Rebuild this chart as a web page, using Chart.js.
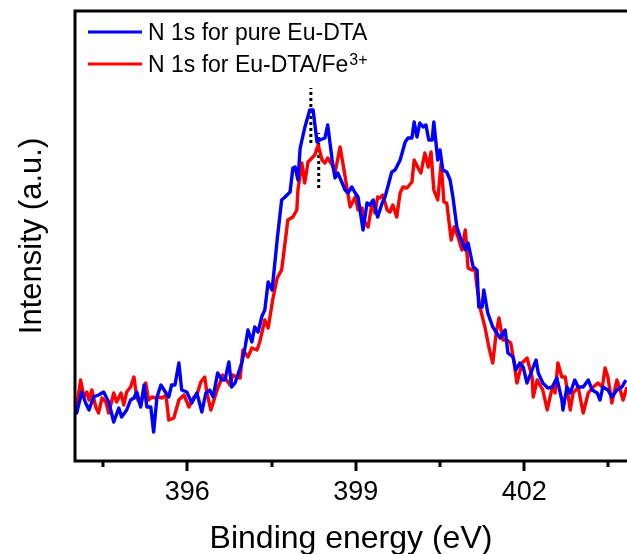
<!DOCTYPE html>
<html><head><meta charset="utf-8">
<script src="https://cdn.jsdelivr.net/npm/chart.js@4"></script>
<style>html,body{margin:0;padding:0;background:#fff;overflow:hidden}</style>
</head><body>
<canvas id="c" width="627" height="554"></canvas>
<script>
// Binding energy (eV) and intensity (a.u.)
const blueE=[394.01,394.03,394.12,394.19,394.25,394.33,394.42,394.51,394.60,394.69,
394.78,394.83,394.92,394.99,395.05,395.10,395.17,395.23,395.28,395.35,
395.40,395.46,395.53,395.62,395.67,395.72,395.78,395.85,395.90,395.99,
396.08,396.17,396.26,396.33,396.40,396.46,396.54,396.62,396.67,396.74,
396.79,396.85,396.97,397.03,397.08,397.15,397.20,397.26,397.33,397.38,
397.44,397.51,397.60,397.68,397.74,397.83,397.88,397.92,397.97,398.01,
398.09,398.18,398.24,398.31,398.36,398.45,398.50,398.58,398.63,398.68,
398.75,398.81,398.86,398.93,398.99,399.04,399.13,399.20,399.25,399.31,
399.39,399.47,399.52,399.57,399.64,399.70,399.79,399.88,399.93,400.00,
400.04,400.09,400.14,400.20,400.25,400.30,400.36,400.39,400.46,400.50,
400.55,400.62,400.68,400.73,400.80,400.86,400.95,401.00,401.09,401.16,
401.19,401.25,401.28,401.35,401.44,401.51,401.57,401.66,401.71,401.80,
401.85,401.92,401.98,402.05,402.14,402.21,402.25,402.33,402.42,402.50,
402.58,402.67,402.69,402.76,402.82,402.90,402.96,403.05,403.14,403.21,
403.30,403.35,403.40,403.49,403.56,403.65,403.74,403.81];
const blueI=[54,48,69,58,51,64,66,69,59,39,
53,44,51,61,63,69,54,76,54,54,
29,64,76,68,64,76,76,98,71,69,
58,68,49,68,71,64,88,81,81,99,
74,78,98,114,131,119,134,129,145,151,
179,171,221,261,264,269,293,294,281,313,
333,351,351,319,321,323,336,301,283,288,
279,271,268,274,268,264,231,258,256,261,
244,258,264,274,289,291,301,319,323,323,
339,324,338,334,336,321,321,339,301,311,
291,289,281,264,234,224,211,218,194,191,
154,154,171,148,134,128,123,131,108,104,
91,98,94,78,91,101,88,78,73,74,
83,61,51,74,68,81,74,74,81,71,
68,61,74,71,64,71,74,81];
const redE=[394.01,394.03,394.10,394.16,394.21,394.25,394.30,394.37,394.42,394.48,
394.55,394.60,394.69,394.74,394.82,394.87,394.92,394.99,395.05,395.10,
395.17,395.26,395.31,395.37,395.44,395.49,395.55,395.62,395.67,395.76,
395.85,395.94,396.03,396.12,396.17,396.24,396.31,396.35,396.42,396.53,
396.58,396.63,396.70,396.76,396.81,396.88,396.94,396.99,397.08,397.15,
397.24,397.29,397.38,397.44,397.52,397.60,397.68,397.74,397.79,397.88,
397.95,397.97,398.04,398.09,398.15,398.22,398.27,398.33,398.40,398.45,
398.50,398.58,398.63,398.72,398.77,398.84,398.90,398.99,399.04,399.11,
399.16,399.22,399.29,399.34,399.39,399.43,399.48,399.56,399.61,399.66,
399.73,399.79,399.84,399.91,400.00,400.04,400.11,400.16,400.23,400.29,
400.34,400.39,400.46,400.52,400.57,400.62,400.70,400.75,400.82,400.89,
400.95,401.00,401.07,401.12,401.16,401.21,401.30,401.37,401.44,401.50,
401.55,401.62,401.69,401.76,401.82,401.87,401.96,402.05,402.14,402.16,
402.23,402.33,402.41,402.50,402.55,402.60,402.67,402.73,402.82,402.87,
402.96,403.05,403.14,403.23,403.31,403.39,403.44,403.49,403.56,403.65,
403.71,403.76,403.83];
const redI=[58,54,81,64,69,61,71,54,48,63,
59,48,68,59,68,56,69,74,84,63,
56,78,61,64,63,64,63,66,41,43,
61,66,54,64,66,79,84,68,51,71,
78,86,81,76,86,84,83,111,104,113,
111,119,141,133,161,183,191,218,241,244,
251,271,298,278,299,303,306,316,301,298,
303,296,288,314,298,274,254,264,251,253,
239,234,258,248,264,263,266,251,249,256,
244,268,274,273,279,301,293,288,308,294,
309,271,261,298,259,258,221,234,224,211,
231,193,191,193,174,154,134,114,98,128,
143,121,121,118,98,78,98,103,84,64,
81,71,51,74,68,98,84,84,51,68,
74,48,68,74,78,74,93,84,58,81,
71,61,74];
// dotted peak markers
const markerE=[398.20,398.34];
const markerLow=[318,273];
const markerHigh=[373,328];
// axis ticks
const majorTicks=[396,399,402];
const minorTicks=[394.5,397.5,400.5,403.5];
const seriesNames=['N 1s for pure Eu-DTA','N 1s for Eu-DTA/Fe'];
const seriesSup=['','3+'];
const seriesColors=['#0000ff','#ff0000'];

const FONT='"Liberation Sans", Arial, sans-serif';
const toPts=(xs,ys)=>xs.map((v,i)=>({x:v,y:ys[i]}));

const datasets=[
  {label:seriesNames[0],data:toPts(blueE,blueI),borderColor:seriesColors[0]},
  {label:seriesNames[1],data:toPts(redE,redI),borderColor:seriesColors[1]}
].map(d=>Object.assign(d,{showLine:true,pointRadius:0,borderWidth:3.4,tension:0,fill:false,borderJoinStyle:'round'}));
markerE.forEach((e,i)=>{
  datasets.push({label:'marker'+i,data:[{x:e,y:markerLow[i]},{x:e,y:markerHigh[i]}],
    showLine:true,pointRadius:0,borderColor:'#000',borderWidth:3,borderDash:[3,3],borderCapStyle:'butt'});
});

const frame={
  id:'frame',
  afterDraw(chart){
    const {ctx,chartArea:a,scales:{x}}=chart;
    ctx.save();
    ctx.strokeStyle='#000';ctx.lineWidth=3;ctx.lineJoin='miter';ctx.lineCap='butt';
    ctx.beginPath();
    ctx.moveTo(chart.width+5,a.top);ctx.lineTo(a.left,a.top);ctx.lineTo(a.left,a.bottom);ctx.lineTo(chart.width+5,a.bottom);
    ctx.stroke();
    ctx.lineWidth=3;
    majorTicks.forEach(v=>{const p=Math.round(x.getPixelForValue(v));ctx.beginPath();ctx.moveTo(p,a.bottom);ctx.lineTo(p,a.bottom+10);ctx.stroke();});
    minorTicks.forEach(v=>{const p=Math.round(x.getPixelForValue(v));ctx.beginPath();ctx.moveTo(p,a.bottom);ctx.lineTo(p,a.bottom+6);ctx.stroke();});
    // legend
    const lx0=a.left+13, lx1=a.left+67, tx=a.left+73;
    const rows=[a.top+21,a.top+53];
    ctx.textBaseline='alphabetic';ctx.textAlign='left';ctx.fillStyle='#000';
    for(let i=0;i<2;i++){
      ctx.strokeStyle=seriesColors[i];ctx.lineWidth=3;
      ctx.beginPath();ctx.moveTo(lx0,rows[i]);ctx.lineTo(lx1,rows[i]);ctx.stroke();
      ctx.font='23px '+FONT;
      ctx.fillText(seriesNames[i],tx,rows[i]+8);
      if(seriesSup[i]){
        const w=ctx.measureText(seriesNames[i]).width;
        ctx.font='16px '+FONT;
        ctx.fillText(seriesSup[i],tx+w+1,rows[i]+1);
      }
    }
    ctx.restore();
  }
};

new Chart(document.getElementById('c'),{
  type:'scatter',
  data:{datasets},
  options:{
    responsive:false,animation:false,devicePixelRatio:1,
    layout:{padding:{top:11,right:0,left:0,bottom:0}},
    plugins:{legend:{display:false},tooltip:{enabled:false}},
    scales:{
      x:{type:'linear',position:'bottom',min:394.0,max:403.83,
        afterBuildTicks:s=>{s.ticks=majorTicks.map(v=>({value:v}));},
        afterFit:s=>{s.height=93;},
        grid:{display:false,drawTicks:false},border:{display:false},
        ticks:{color:'#000',font:{family:FONT,size:27},padding:15,maxRotation:0,autoSkip:false,callback:v=>String(v)},
        title:{display:true,text:'Binding energy (eV)',color:'#000',font:{family:FONT,size:32,lineHeight:1},padding:{top:0,bottom:-1}}
      },
      y:{type:'linear',min:0,max:450,
        afterFit:s=>{s.width=75;},
        grid:{display:false,drawTicks:false},border:{display:false},
        ticks:{display:false},
        title:{display:true,text:'Intensity (a.u.)',color:'#000',font:{family:FONT,size:31,lineHeight:1.2},padding:{top:14,bottom:0}}
      }
    }
  },
  plugins:[frame]
});
</script>
</body></html>
